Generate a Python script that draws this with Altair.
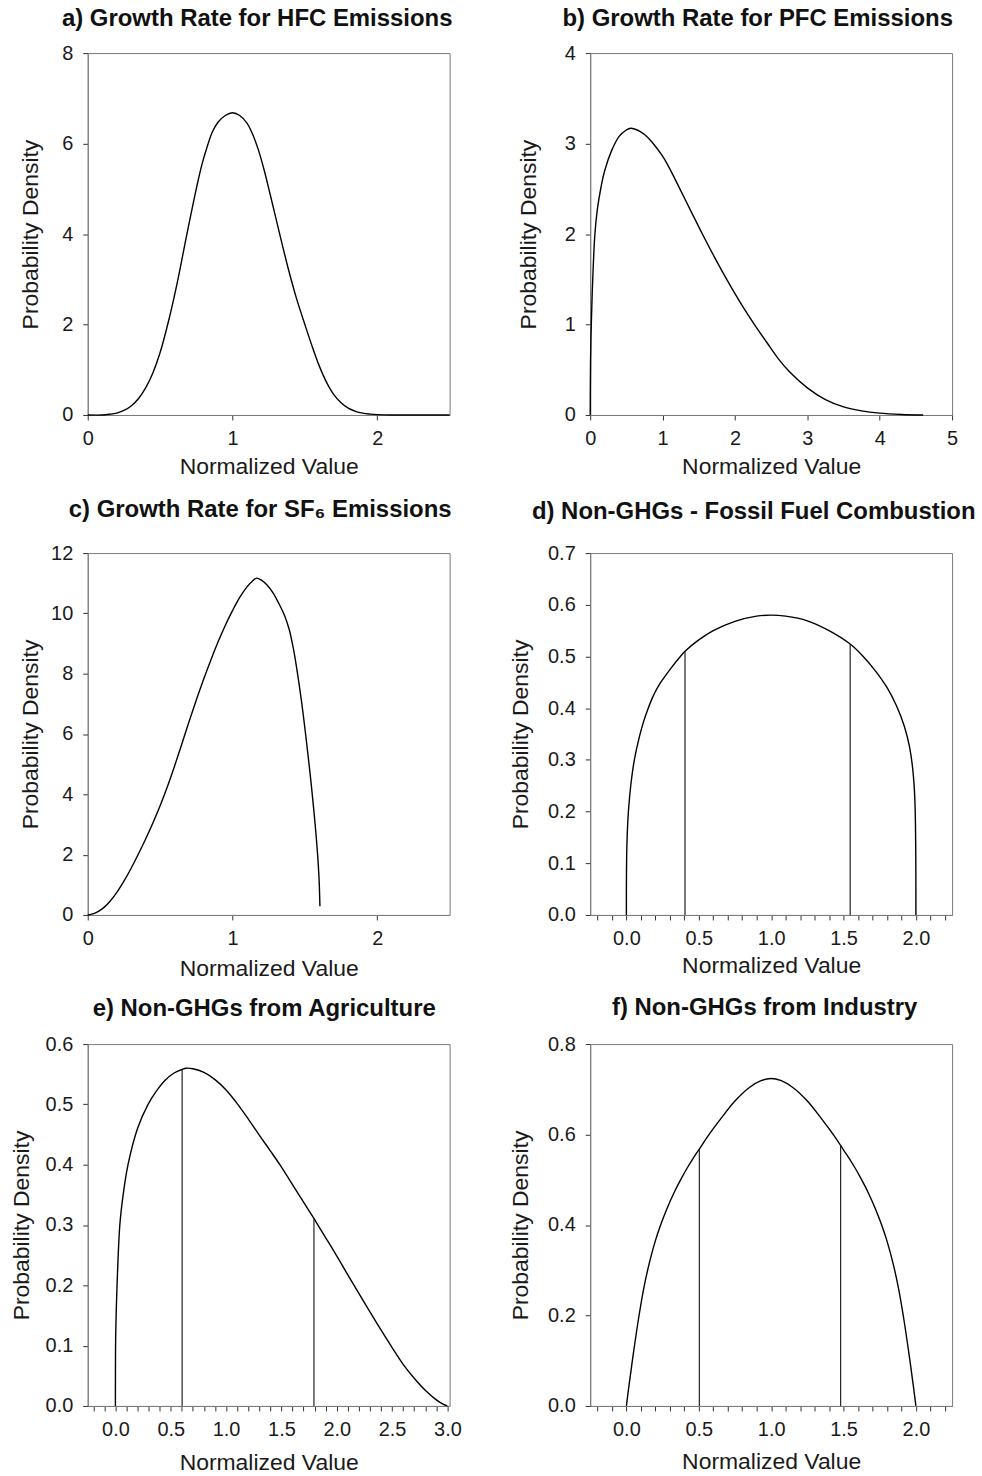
import altair as alt
import pandas as pd

# ---------------- data ----------------
# a) Growth Rate for HFC Emissions
hfc_x = [0.0, 0.10, 0.15, 0.20, 0.25, 0.30, 0.35, 0.40, 0.45, 0.50, 0.56, 0.62, 0.685, 0.75, 0.79,
         0.83, 0.86, 0.90, 0.95, 1.00, 1.05, 1.10, 1.14, 1.18, 1.22, 1.26, 1.32, 1.38, 1.44, 1.50,
         1.55, 1.60, 1.65, 1.70, 1.75, 1.80, 1.85, 1.90, 1.95, 2.00, 2.10, 2.50]
hfc_y = [0.0, 0.0, 0.015, 0.04, 0.10, 0.20, 0.36, 0.60, 0.93, 1.38, 2.10, 2.95, 4.00, 5.00, 5.55,
         5.98, 6.25, 6.47, 6.62, 6.68, 6.62, 6.45, 6.20, 5.85, 5.40, 4.88, 4.08, 3.30, 2.60, 2.00,
         1.52, 1.08, 0.72, 0.45, 0.27, 0.15, 0.08, 0.04, 0.02, 0.008, 0.0, 0.0]

# b) Growth Rate for PFC Emissions
pfc_x = [0.0, 0.005, 0.015, 0.035, 0.065, 0.10, 0.15, 0.20, 0.30, 0.40, 0.50, 0.56, 0.65, 0.75,
         0.85, 1.00, 1.10, 1.22, 1.40, 1.55, 1.70, 1.90, 2.10, 2.27, 2.45, 2.60, 2.75, 3.00, 3.25,
         3.50, 3.75, 4.00, 4.30, 4.60]
pfc_y = [0.0, 0.60, 1.00, 1.50, 2.00, 2.28, 2.52, 2.70, 2.93, 3.08, 3.15, 3.17, 3.15, 3.10,
         3.02, 2.86, 2.72, 2.53, 2.24, 2.00, 1.77, 1.48, 1.21, 1.00, 0.79, 0.62, 0.48, 0.30, 0.17,
         0.09, 0.045, 0.02, 0.006, 0.0]

# c) Growth Rate for SF6 Emissions
sf6_x = [0.0, 0.05, 0.10, 0.15, 0.20, 0.25, 0.30, 0.35, 0.40, 0.45, 0.50, 0.55, 0.60, 0.65,
         0.70, 0.75, 0.80, 0.85, 0.90, 0.95, 1.00, 1.05, 1.10, 1.135, 1.167, 1.20, 1.24, 1.28,
         1.32, 1.358, 1.39, 1.42, 1.443, 1.475, 1.505, 1.53, 1.551, 1.571, 1.588, 1.598, 1.604]
sf6_y = [0.0, 0.06, 0.20, 0.43, 0.74, 1.12, 1.55, 2.02, 2.52, 3.05, 3.62, 4.25, 4.94, 5.67,
         6.41, 7.13, 7.81, 8.45, 9.05, 9.60, 10.09, 10.53, 10.88, 11.06, 11.17, 11.10, 10.93, 10.68,
         10.33, 9.95, 9.50, 8.85, 8.20, 7.15, 6.00, 4.95, 4.00, 3.00, 2.00, 1.20, 0.29]

# d) Non-GHGs - Fossil Fuel Combustion
ffc_x = [0.0, 0.0005, 0.004, 0.014, 0.03, 0.055, 0.09, 0.12, 0.147, 0.175, 0.20, 0.235, 0.27,
         0.31, 0.364, 0.405, 0.50, 0.60, 0.75, 0.90, 1.00, 1.10, 1.25, 1.40, 1.546, 1.636, 1.72,
         1.80, 1.865, 1.92, 1.956, 1.975, 1.99, 1.996, 1.9995, 2.0]
ffc_y = [0.0, 0.075, 0.14, 0.20, 0.25, 0.30, 0.345, 0.375, 0.397, 0.417, 0.432, 0.449, 0.463,
         0.478, 0.497, 0.51, 0.532, 0.55, 0.568, 0.578, 0.58, 0.578, 0.569, 0.55, 0.524, 0.50,
         0.472, 0.44, 0.405, 0.365, 0.325, 0.29, 0.24, 0.19, 0.10, 0.0]
ffc_lines_x = [0.405, 1.546]
ffc_lines_top = [0.51, 0.524]

# e) Non-GHGs from Agriculture
agr_x = [0.0, 0.0005, 0.003, 0.015, 0.04, 0.07, 0.114, 0.20, 0.295, 0.37, 0.45, 0.53, 0.603,
         0.64, 0.70, 0.80, 0.90, 1.00, 1.094, 1.20, 1.30, 1.40, 1.486, 1.60, 1.70, 1.794, 1.833,
         1.95, 2.05, 2.15, 2.30, 2.40, 2.496, 2.60, 2.70, 2.80, 2.90, 2.96, 3.0]
agr_y = [0.0, 0.06, 0.12, 0.20, 0.30, 0.35, 0.40, 0.46, 0.50, 0.522, 0.54, 0.552, 0.558,
         0.56, 0.559, 0.553, 0.541, 0.524, 0.503, 0.476, 0.449, 0.423, 0.40, 0.367, 0.338, 0.311,
         0.299, 0.264, 0.233, 0.202, 0.156, 0.126, 0.098, 0.069, 0.046, 0.026, 0.01, 0.003, 0.0]
agr_lines_x = [0.603, 1.794]
agr_lines_top = [0.558, 0.311]

# f) Non-GHGs from Industry
ind_x = [0.0, 0.02, 0.05, 0.085, 0.12, 0.16, 0.20, 0.239, 0.28, 0.33, 0.38, 0.42, 0.46, 0.504,
         0.562, 0.65, 0.75, 0.85, 0.93, 1.0, 1.07, 1.15, 1.25, 1.35, 1.438, 1.48, 1.496, 1.54,
         1.58, 1.62, 1.67, 1.72, 1.761, 1.80, 1.84, 1.88, 1.915, 1.95, 1.98, 2.0]
ind_y = [0.0, 0.05, 0.12, 0.195, 0.26, 0.318, 0.365, 0.402, 0.436, 0.472, 0.503, 0.526, 0.547,
         0.568, 0.596, 0.634, 0.674, 0.704, 0.719, 0.724, 0.719, 0.704, 0.674, 0.634, 0.596,
         0.576, 0.568, 0.547, 0.526, 0.503, 0.472, 0.436, 0.402, 0.365, 0.318, 0.26, 0.195, 0.12,
         0.05, 0.0]
ind_lines_x = [0.504, 1.48]
ind_lines_top = [0.568, 0.576]

# tick values
ticks_x_a = [0, 1, 2]
ticks_x_b = [0, 1, 2, 3, 4, 5]
ticks_x_c = [0, 1, 2]
ticks_x_d = [-0.2, -0.1, 0.0, 0.1, 0.2, 0.3, 0.4, 0.5, 0.6, 0.7, 0.8, 0.9, 1.0, 1.1, 1.2, 1.3,
             1.4, 1.5, 1.6, 1.7, 1.8, 1.9, 2.0, 2.1, 2.2]
ticks_x_e = [-0.2, -0.1, 0.0, 0.1, 0.2, 0.3, 0.4, 0.5, 0.6, 0.7, 0.8, 0.9, 1.0, 1.1, 1.2, 1.3,
             1.4, 1.5, 1.6, 1.7, 1.8, 1.9, 2.0, 2.1, 2.2, 2.3, 2.4, 2.5, 2.6, 2.7, 2.8, 2.9, 3.0]
ticks_x_f = ticks_x_d
ticks_y_a = [0, 2, 4, 6, 8]
ticks_y_b = [0, 1, 2, 3, 4]
ticks_y_c = [0, 2, 4, 6, 8, 10, 12]
ticks_y_d = [0.0, 0.1, 0.2, 0.3, 0.4, 0.5, 0.6, 0.7]
ticks_y_e = [0.0, 0.1, 0.2, 0.3, 0.4, 0.5, 0.6]
ticks_y_f = [0.0, 0.2, 0.4, 0.6, 0.8]

FONT = "Liberation Sans"
W = 363
H = 363
HALF_LABELS = ("abs(datum.value*2 - round(datum.value*2)) < 0.001 "
               "? format(datum.value, '.1f') : ''")


def panel(title, xs, ys, xdom, xticks, ydom, yticks, yfmt, minor=False,
          lx=None, ltop=None, tdx=-8, toff=18, ytp=15, xtp=8):
    df = pd.DataFrame({"x": xs, "y": ys})
    xaxis_kw = dict(values=xticks, title="Normalized Value", titlePadding=xtp)
    if minor:
        xaxis_kw["labelExpr"] = HALF_LABELS
    else:
        xaxis_kw["format"] = "d"
    xenc = alt.X("x:Q", scale=alt.Scale(domain=xdom, nice=False, zero=False),
                 axis=alt.Axis(**xaxis_kw))
    yenc = alt.Y("y:Q", scale=alt.Scale(domain=ydom, nice=False, zero=False),
                 axis=alt.Axis(values=yticks, format=yfmt, title="Probability Density",
                               titlePadding=ytp))
    line = alt.Chart(df).mark_line(color="black", strokeWidth=1.4,
                                   interpolate="catmull-rom").encode(x=xenc, y=yenc)
    layers = [line]
    if lx is not None:
        ldf = pd.DataFrame({"x": lx, "y": [0.0] * len(lx), "y2": ltop})
        rules = alt.Chart(ldf).mark_rule(color="#222222", strokeWidth=1.2).encode(
            x=xenc, y=yenc, y2=alt.Y2("y2:Q"))
        layers.append(rules)
    return alt.layer(*layers).properties(
        width=W, height=H,
        title=alt.TitleParams(text=title, fontSize=24, font=FONT, fontWeight="bold",
                              color="#111111", anchor="middle", dx=tdx, offset=toff),
    )


pa = panel("a) Growth Rate for HFC Emissions", hfc_x, hfc_y, [0, 2.5], ticks_x_a,
           [0, 8], ticks_y_a, "d", tdx=-11.5, toff=12.5, ytp=19, xtp=7.5)
pb = panel("b) Growth Rate for PFC Emissions", pfc_x, pfc_y, [0, 5], ticks_x_b,
           [0, 4], ticks_y_b, "d", tdx=-13.5, toff=12.5, ytp=24, xtp=7.5)
pc = panel("c) Growth Rate for SF\u2086 Emissions", sf6_x, sf6_y, [0, 2.5], ticks_x_c,
           [0, 12], ticks_y_c, "d", tdx=-8.5, toff=21.5, ytp=8, xtp=9)
pd_ = panel("d) Non-GHGs - Fossil Fuel Combustion", ffc_x, ffc_y, [-0.25, 2.25], ticks_x_d,
            [0, 0.7], ticks_y_d, ".1f", minor=True, lx=ffc_lines_x, ltop=ffc_lines_top,
            tdx=-17.5, toff=19.5, ytp=15, xtp=6)
pe = panel("e) Non-GHGs from Agriculture", agr_x, agr_y, [-0.25, 3.02], ticks_x_e,
           [0, 0.6], ticks_y_e, ".1f", minor=True, lx=agr_lines_x, ltop=agr_lines_top,
           tdx=-4.5, toff=13.5, ytp=12, xtp=12)
pf = panel("f) Non-GHGs from Industry", ind_x, ind_y, [-0.25, 2.25], ticks_x_f,
           [0, 0.8], ticks_y_f, ".1f", minor=True, lx=ind_lines_x, ltop=ind_lines_top,
           tdx=-6.5, toff=14.5, ytp=15, xtp=11)

row1 = alt.hconcat(pa, pb, spacing=141, bounds="flush")
row2 = alt.hconcat(pc, pd_, spacing=141, bounds="flush")
row3 = alt.hconcat(pe, pf, spacing=141, bounds="flush")

chart = alt.vconcat(alt.vconcat(row1, row2, spacing=17.5), row3, spacing=14).properties(
    padding={"left": 9, "top": 4, "right": 5, "bottom": 0},
    background="white",
).configure_view(
    stroke="#7a7a7a", strokeWidth=1
).configure_axis(
    grid=False,
    domainColor="#7a7a7a", domainWidth=1,
    tickColor="#333333", tickSize=5, tickWidth=1,
    labelFont=FONT, labelFontSize=20, labelColor="#1a1a1a",
    labelFlush=False, labelOverlap=False,
    titleFont=FONT, titleFontSize=23, titleFontWeight="normal", titleColor="#1a1a1a",
).configure_axisX(
    labelPadding=8.5
).configure_axisY(
    labelPadding=10
)

chart.save("out.html", embed_options={"renderer": "svg", "actions": False})
